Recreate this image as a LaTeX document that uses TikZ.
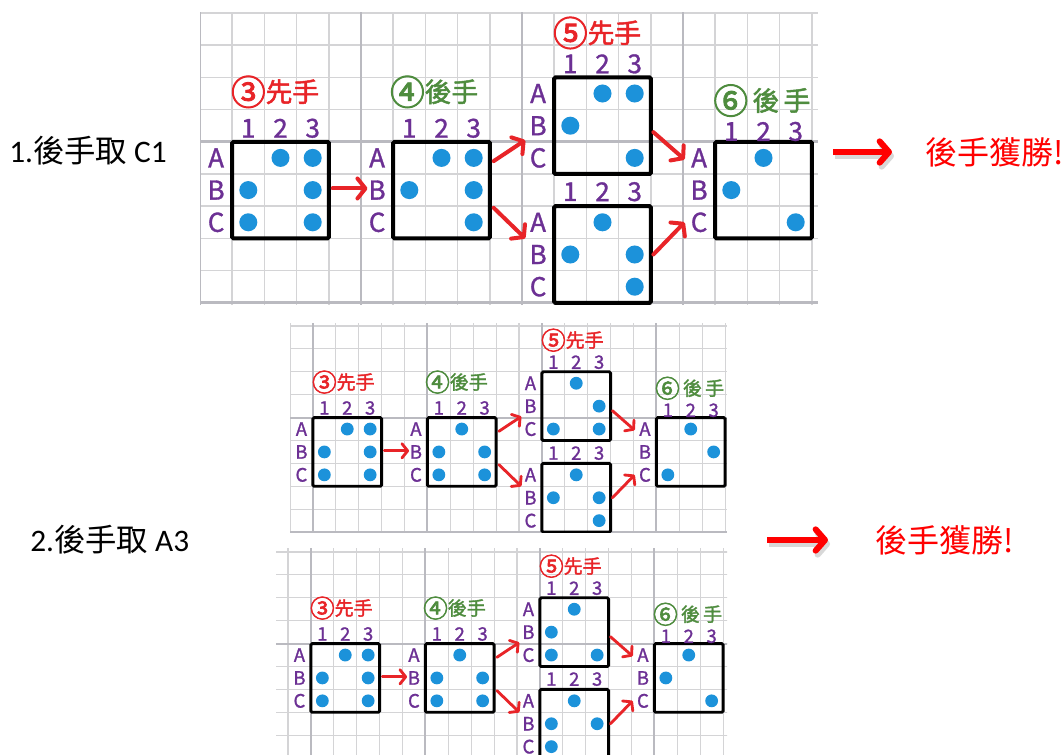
\documentclass[tikz,border=0pt]{standalone}
\usepackage{fontspec}
\setmainfont{Carlito}
\newfontfamily\cjk{Noto Sans CJK TC}
\newfontfamily\lab[FakeBold=1.2]{Noto Sans CJK TC}
\newfontfamily\ttlf[FakeBold=1.8]{Noto Sans CJK TC}
\newfontfamily\circf[FakeBold=2.5]{Noto Sans CJK TC}
\usetikzlibrary{arrows.meta}
\definecolor{gridc}{RGB}{212,212,214}
\definecolor{gridk}{RGB}{186,186,192}
\definecolor{dotc}{RGB}{28,146,218}
\definecolor{purp}{RGB}{108,48,148}
\definecolor{redc}{RGB}{232,36,40}
\definecolor{grnc}{RGB}{78,140,62}
\definecolor{redw}{RGB}{255,0,0}
\newcommand\cnum[1]{\raisebox{-0.12em}{\scalebox{1.3}{\circf #1}}}
\tikzset{
  gthin/.style={draw=gridc,line width=\S*1.1pt},
  gthick/.style={draw=gridk,line width=\S*2.2pt},
  boardbox/.style={draw=black,line width=\S*3pt,rounded corners=1pt},
  stone/.style={fill=dotc},
  clab/.style={text=purp,inner sep=0pt,font=\lab\fontsize{\lfs pt}{\lfs pt}\selectfont},
  ttl/.style={inner sep=0pt,font=\ttlf\fontsize{\tfs pt}{\tfs pt}\selectfont},
  mv/.style={draw=redc,line width=\S*3pt,line cap=round,
    -{Straight Barb[length=6pt,width=15pt,scale=\S,round]}},
  bigarrow/.style={draw=redw,line width=4.5pt,
    -{Straight Barb[length=7pt,width=16pt,round]}},
  bigshadow/.style={draw=black!25,line width=4.5pt,opacity=0.6,
    -{Straight Barb[length=7pt,width=16pt,round]}},
  maintext/.style={anchor=west,inner sep=0pt,font=\fontsize{23.5pt}{26pt}\selectfont},
  wintext/.style={anchor=west,inner sep=0pt,text=redw,font=\cjk\fontsize{24pt}{26pt}\selectfont},
}
% #1..#5 : stones of boards 3, 4, 5 (upper), 5 (lower), 6  as col/row
\newcommand\drawpanel[5]{%
 \pgfmathsetlengthmacro\cellL{\C*0.75pt}%
 \pgfmathsetmacro\lfs{\S*19.5}%
 \pgfmathsetmacro\tfs{\S*20}%
 \begin{scope}[shift={(\OX,\OY)},x=\cellL,y=-\cellL]
  \begin{scope}
   \clip (\XA,\YA) rectangle (\XB,\YB);
   \fill[white] (\XA,\YA) rectangle (\XB,\YB);
   \foreach \i in {-1,...,20} \draw[gthin] (\i,-2) -- (\i,11);
   \foreach \j in {-2,...,11} \draw[gthin] (-2,\j) -- (21,\j);
   \foreach \i in {-5,0,5,10,15,20} \draw[gthick] (\i+\PH,-2) -- (\i+\PH,11);
   \foreach \j in {-1,4,9} \draw[gthick] (-2,\j) -- (21,\j);
   % boards and their labels
   \foreach \bc/\br/\bn/\co in {1/4/b3/0.42,6/4/b4/0.42,11/2/b5t/0.42,11/6/b5b/0.45,16/4/b6/0.32}{
     \draw[boardbox] (\bc,\br) rectangle ++(3,3);
     \foreach \k/\t in {1/1,2/2,3/3}
       \node[clab] (\PN\bn c\k) at (\bc+\k-0.5,\br-\co) {\t};
     \foreach \k/\t in {1/A,2/B,3/C}
       \node[clab] (\PN\bn r\k) at (\bc-0.5,\br+\k-0.5) {\t};
   }
   % stones
   \foreach \c/\r in {#1} \fill[stone] (0.5+\c,3.5+\r) circle (0.28);
   \foreach \c/\r in {#2} \fill[stone] (5.5+\c,3.5+\r) circle (0.28);
   \foreach \c/\r in {#3} \fill[stone] (10.5+\c,1.5+\r) circle (0.28);
   \foreach \c/\r in {#4} \fill[stone] (10.5+\c,5.5+\r) circle (0.28);
   \foreach \c/\r in {#5} \fill[stone] (15.5+\c,3.5+\r) circle (0.28);
   % titles
   \node[ttl,text=redc] (\PN t3) at (2.33,2.45) {\cnum{③}先手};
   \node[ttl,text=grnc] (\PN t4) at (7.27,2.45) {\cnum{④}後手};
   \node[ttl,text=redc] (\PN t5) at (12.33,0.62) {\cnum{⑤}先手};
   \node[ttl,text=grnc] (\PN t6) at (17.45,2.72) {\cnum{⑥}\,後\,手};
   % move arrows
   \coordinate (\PN a1s) at (4.12,5.45); \coordinate (\PN a1e) at (5.2,5.45);
   \coordinate (\PN a2s) at (9.12,4.6);  \coordinate (\PN a2e) at (10.1,3.95);
   \coordinate (\PN a3s) at (9.12,6.05); \coordinate (\PN a3e) at (10.1,7.0);
   \coordinate (\PN a4s) at (14.08,3.7); \coordinate (\PN a4e) at (15.05,4.55);
   \coordinate (\PN a5s) at (14.08,7.5); \coordinate (\PN a5e) at (15.05,6.5);
   \draw[mv] (\PN a1s) -- (\PN a1e);
   \draw[mv] (\PN a2s) -- (\PN a2e);
   \draw[mv] (\PN a3s) -- (\PN a3e);
   \draw[mv] (\PN a4s) -- (\PN a4e);
   \draw[mv] (\PN a5s) -- (\PN a5e);
  \end{scope}
 \end{scope}}
\begin{document}
\begin{tikzpicture}[x=0.75pt,y=-0.75pt]
\useasboundingbox (0,0) rectangle (1064,755);
\fill[white] (0,0) rectangle (1064,755);
% panel 1
\def\PN{pa}\def\OX{200}\def\OY{13}\def\C{32.2}\def\S{1}\def\PH{0}
\def\XA{0}\def\XB{19.19}\def\YA{-0.03}\def\YB{9.05}
\drawpanel{2/1,3/1,1/2,3/2,1/3,3/3}{2/1,3/1,1/2,3/2,3/3}{2/1,3/1,1/2,3/3}{2/1,1/2,3/2,3/3}{2/1,1/2,3/3}
% panel 2
\def\PN{pb}\def\OX{290}\def\OY{326}\def\C{22.9}\def\S{0.711}\def\PH{1}
\def\XA{0}\def\XB{19.08}\def\YA{-0.13}\def\YB{9.0}
\drawpanel{2/1,3/1,1/2,3/2,1/3,3/3}{2/1,1/2,3/2,1/3,3/3}{2/1,3/2,1/3,3/3}{2/1,1/2,3/2,3/3}{2/1,3/2,1/3}
% panel 3
\def\PN{pc}\def\OX{288}\def\OY{552}\def\C{22.9}\def\S{0.711}\def\PH{1}
\def\XA{-0.52}\def\XB{19.17}\def\YA{-0.17}\def\YB{8.86}
\drawpanel{2/1,3/1,1/2,3/2,1/3,3/3}{2/1,1/2,3/2,1/3,3/3}{2/1,1/2,1/3,3/3}{2/1,1/2,3/2,1/3}{2/1,1/2,3/3}
% side texts
\node[maintext] (m1) at (9,151) {1.{\cjk 後手取} C1};
\node[maintext] (m2) at (30,540) {2.{\cjk 後手取} A3};
\coordinate (r1s) at (833,152); \coordinate (r1e) at (892,152);
\coordinate (r1ss) at (835,156); \coordinate (r1se) at (894,156);
\coordinate (r2s) at (767,540); \coordinate (r2e) at (828,540);
\coordinate (r2ss) at (769,544); \coordinate (r2se) at (830,544);
\draw[bigshadow] (r1ss) -- (r1se);
\draw[bigarrow] (r1s) -- (r1e);
\draw[bigshadow] (r2ss) -- (r2se);
\draw[bigarrow] (r2s) -- (r2e);
\node[wintext] (w1) at (925,152) {後手獲勝!};
\node[wintext] (w2) at (875,540) {後手獲勝!};
\end{tikzpicture}
\end{document}
